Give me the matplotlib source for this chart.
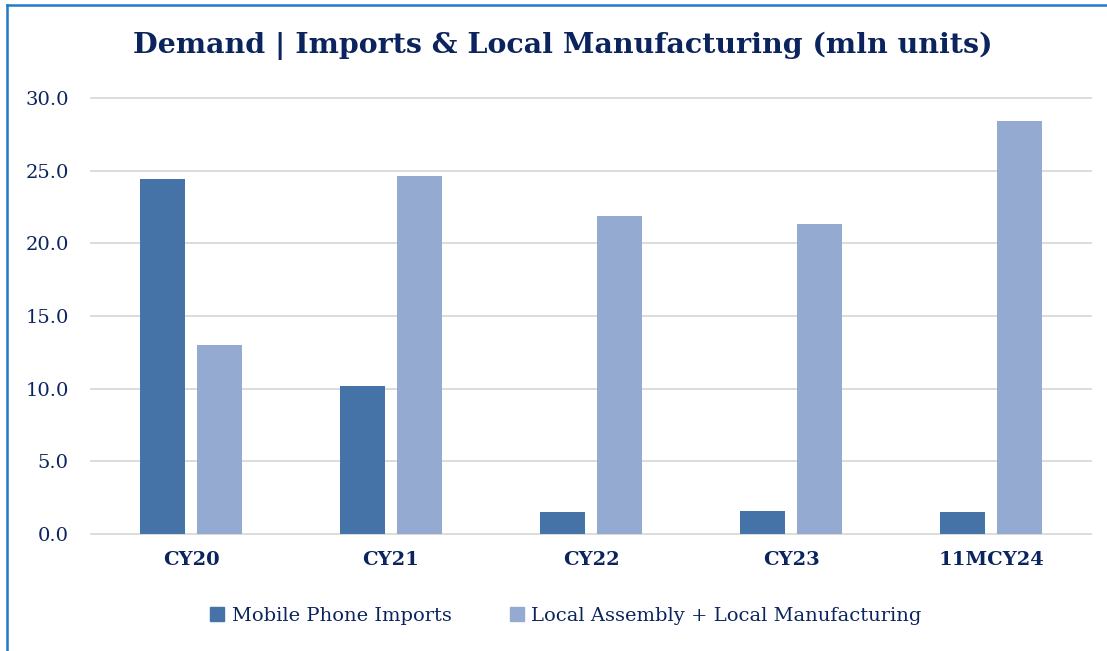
import matplotlib
matplotlib.use("Agg")
import matplotlib.pyplot as plt
import numpy as np
from matplotlib.lines import Line2D
from matplotlib.patches import Patch

categories = ["CY20", "CY21", "CY22", "CY23", "11MCY24"]
imports = [24.4, 10.2, 1.5, 1.6, 1.5]
local = [13.0, 24.6, 21.9, 21.3, 28.4]
series_names = ["Mobile Phone Imports", "Local Assembly + Local Manufacturing"]
yticks = [0, 5, 10, 15, 20, 25, 30]

dark = "#4673A7"
light = "#95AAD1"
navy = "#0C245E"
grid = "#D9D9D9"
serif = ["DejaVu Serif"]

W, H = 1107, 651
fig = plt.figure(figsize=(W / 100, H / 100), dpi=100)
ax = fig.add_axes([91 / W, 1 - 534 / H, 1000 / W, 436 / H])

x = np.arange(len(categories))
bw = 0.225
off = 0.1425
ax.bar(x - off, imports, bw, color=dark, zorder=3)
ax.bar(x + off, local, bw, color=light, zorder=3)

ax.set_xlim(-0.5, len(categories) - 0.5)
ax.set_ylim(0, 30)
ax.set_yticks(yticks)
ax.set_yticklabels([f"{v:.1f}" for v in yticks], fontsize=14, color=navy, family=serif)
ax.set_xticks(x)
ax.set_xticklabels(categories, fontsize=14, fontweight="bold", color=navy, family=serif)
ax.tick_params(axis="both", length=0)
ax.tick_params(axis="y", pad=16)
ax.tick_params(axis="x", pad=12)
for v in yticks:
    ax.axhline(v, color=grid, linewidth=1.3, zorder=1 if v else 2, clip_on=False)
for s in ax.spines.values():
    s.set_visible(False)

fig.text(563 / W, 1 - 46 / H, "Demand | Imports & Local Manufacturing (mln units)",
         ha="center", va="center", fontsize=20.5, fontweight="bold", color=navy, family=serif)

handles = [Patch(color=dark), Patch(color=light)]
leg = fig.legend(handles, series_names, loc="center", bbox_to_anchor=(566 / W, 1 - 616 / H),
                 ncol=2, frameon=False, handlelength=0.7, handleheight=0.7,
                 handletextpad=0.4, columnspacing=3.0, prop={"family": serif, "size": 14})
for t in leg.get_texts():
    t.set_color(navy)

# border (top and left visible)
fig.add_artist(Line2D([7 / W, 7 / W], [0, 1 - 5 / H], color="#1F7BC8", linewidth=1.8, transform=fig.transFigure))
fig.add_artist(Line2D([7 / W, 1], [1 - 5 / H, 1 - 5 / H], color="#1F7BC8", linewidth=1.8, transform=fig.transFigure))

fig.savefig("out.png", dpi=100)
